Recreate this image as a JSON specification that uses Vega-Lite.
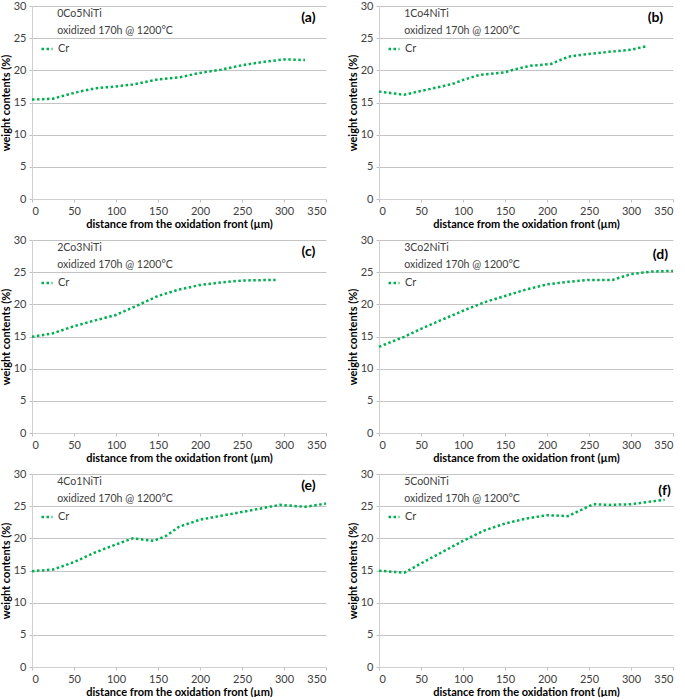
{
  "$schema": "https://vega.github.io/schema/vega-lite/v6.json",
  "background": "white",
  "padding": {"left": 0, "top": 0, "right": 0, "bottom": 0},
  "datasets": {
    "a": [
      {"distance": 0, "cr": 15.45}, {"distance": 25, "cr": 15.6}, {"distance": 50, "cr": 16.5},
      {"distance": 75, "cr": 17.2}, {"distance": 100, "cr": 17.5}, {"distance": 120, "cr": 17.8},
      {"distance": 150, "cr": 18.6}, {"distance": 175, "cr": 18.9}, {"distance": 200, "cr": 19.6},
      {"distance": 225, "cr": 20.1}, {"distance": 250, "cr": 20.8}, {"distance": 275, "cr": 21.3},
      {"distance": 300, "cr": 21.7}, {"distance": 325, "cr": 21.6}
    ],
    "b": [
      {"distance": 0, "cr": 16.7}, {"distance": 30, "cr": 16.2}, {"distance": 50, "cr": 16.8},
      {"distance": 75, "cr": 17.5}, {"distance": 90, "cr": 18.0}, {"distance": 100, "cr": 18.5},
      {"distance": 120, "cr": 19.3}, {"distance": 150, "cr": 19.7}, {"distance": 160, "cr": 20.1},
      {"distance": 180, "cr": 20.7}, {"distance": 205, "cr": 21.0}, {"distance": 225, "cr": 22.1},
      {"distance": 240, "cr": 22.4}, {"distance": 275, "cr": 22.9}, {"distance": 300, "cr": 23.2},
      {"distance": 320, "cr": 23.8}
    ],
    "c": [
      {"distance": 0, "cr": 14.95}, {"distance": 25, "cr": 15.5}, {"distance": 50, "cr": 16.6},
      {"distance": 75, "cr": 17.5}, {"distance": 100, "cr": 18.35}, {"distance": 125, "cr": 19.8},
      {"distance": 150, "cr": 21.3}, {"distance": 175, "cr": 22.3}, {"distance": 200, "cr": 23.0},
      {"distance": 225, "cr": 23.4}, {"distance": 250, "cr": 23.7}, {"distance": 290, "cr": 23.8}
    ],
    "d": [
      {"distance": 0, "cr": 13.4}, {"distance": 30, "cr": 14.95}, {"distance": 50, "cr": 16.2},
      {"distance": 75, "cr": 17.6}, {"distance": 100, "cr": 19.0}, {"distance": 125, "cr": 20.3},
      {"distance": 150, "cr": 21.3}, {"distance": 175, "cr": 22.3}, {"distance": 200, "cr": 23.1},
      {"distance": 225, "cr": 23.5}, {"distance": 250, "cr": 23.8}, {"distance": 278, "cr": 23.8},
      {"distance": 300, "cr": 24.7}, {"distance": 325, "cr": 25.1}, {"distance": 350, "cr": 25.2}
    ],
    "e": [
      {"distance": 0, "cr": 14.9}, {"distance": 25, "cr": 15.15}, {"distance": 50, "cr": 16.3},
      {"distance": 75, "cr": 17.8}, {"distance": 100, "cr": 19.05}, {"distance": 120, "cr": 20.0},
      {"distance": 145, "cr": 19.6}, {"distance": 160, "cr": 20.4}, {"distance": 175, "cr": 21.8},
      {"distance": 200, "cr": 22.9}, {"distance": 225, "cr": 23.5}, {"distance": 250, "cr": 24.1},
      {"distance": 275, "cr": 24.7}, {"distance": 295, "cr": 25.2}, {"distance": 325, "cr": 24.9},
      {"distance": 350, "cr": 25.4}
    ],
    "f": [
      {"distance": 0, "cr": 14.97}, {"distance": 30, "cr": 14.65}, {"distance": 50, "cr": 16.1},
      {"distance": 75, "cr": 17.85}, {"distance": 100, "cr": 19.6}, {"distance": 125, "cr": 21.2},
      {"distance": 150, "cr": 22.3}, {"distance": 175, "cr": 23.07}, {"distance": 200, "cr": 23.6},
      {"distance": 225, "cr": 23.45}, {"distance": 255, "cr": 25.3}, {"distance": 275, "cr": 25.2},
      {"distance": 300, "cr": 25.3}, {"distance": 340, "cr": 26.0}
    ],
    "one": [{}]
  },
  "columns": 2,
  "spacing": {"row": 5, "column": 16},
  "concat": [
    {
      "width": 294, "height": 193,
      "layer": [
        {"data": {"name": "a"}, "mark": {"type": "line", "strokeDash": [2.5, 2.5], "strokeWidth": 2.5},
         "encoding": {
           "x": {"field": "distance", "type": "quantitative", "title": "distance from the oxidation front (µm)", "scale": {"domain": [0, 350]}},
           "y": {"field": "cr", "type": "quantitative", "title": "weight contents (%)", "scale": {"domain": [0, 30]}},
           "color": {"datum": "Cr"}
         }},
        {"data": {"name": "one"}, "mark": {"type": "text", "align": "left", "baseline": "middle"},
         "encoding": {"x": {"datum": 30}, "y": {"datum": 28.7}, "text": {"value": "0Co5NiTi"}}},
        {"data": {"name": "one"}, "mark": {"type": "text", "align": "left", "baseline": "middle"},
         "encoding": {"x": {"datum": 30}, "y": {"datum": 26.1}, "text": {"value": "oxidized 170h @ 1200°C"}}},
        {"data": {"name": "one"}, "mark": {"type": "text", "align": "center", "baseline": "middle", "fontWeight": "bold", "fontSize": 14, "color": "black"},
         "encoding": {"x": {"datum": 329}, "y": {"datum": 28.1}, "text": {"value": "(a)"}}}
      ]
    },
    {
      "width": 294, "height": 193,
      "layer": [
        {"data": {"name": "b"}, "mark": {"type": "line", "strokeDash": [2.5, 2.5], "strokeWidth": 2.5},
         "encoding": {
           "x": {"field": "distance", "type": "quantitative", "title": "distance from the oxidation front (µm)", "scale": {"domain": [0, 350]}},
           "y": {"field": "cr", "type": "quantitative", "title": "weight contents (%)", "scale": {"domain": [0, 30]}},
           "color": {"datum": "Cr"}
         }},
        {"data": {"name": "one"}, "mark": {"type": "text", "align": "left", "baseline": "middle"},
         "encoding": {"x": {"datum": 30}, "y": {"datum": 28.7}, "text": {"value": "1Co4NiTi"}}},
        {"data": {"name": "one"}, "mark": {"type": "text", "align": "left", "baseline": "middle"},
         "encoding": {"x": {"datum": 30}, "y": {"datum": 26.1}, "text": {"value": "oxidized 170h @ 1200°C"}}},
        {"data": {"name": "one"}, "mark": {"type": "text", "align": "center", "baseline": "middle", "fontWeight": "bold", "fontSize": 14, "color": "black"},
         "encoding": {"x": {"datum": 329}, "y": {"datum": 28.1}, "text": {"value": "(b)"}}}
      ]
    },
    {
      "width": 294, "height": 193,
      "layer": [
        {"data": {"name": "c"}, "mark": {"type": "line", "strokeDash": [2.5, 2.5], "strokeWidth": 2.5},
         "encoding": {
           "x": {"field": "distance", "type": "quantitative", "title": "distance from the oxidation front (µm)", "scale": {"domain": [0, 350]}},
           "y": {"field": "cr", "type": "quantitative", "title": "weight contents (%)", "scale": {"domain": [0, 30]}},
           "color": {"datum": "Cr"}
         }},
        {"data": {"name": "one"}, "mark": {"type": "text", "align": "left", "baseline": "middle"},
         "encoding": {"x": {"datum": 30}, "y": {"datum": 28.7}, "text": {"value": "2Co3NiTi"}}},
        {"data": {"name": "one"}, "mark": {"type": "text", "align": "left", "baseline": "middle"},
         "encoding": {"x": {"datum": 30}, "y": {"datum": 26.1}, "text": {"value": "oxidized 170h @ 1200°C"}}},
        {"data": {"name": "one"}, "mark": {"type": "text", "align": "center", "baseline": "middle", "fontWeight": "bold", "fontSize": 14, "color": "black"},
         "encoding": {"x": {"datum": 329}, "y": {"datum": 28.1}, "text": {"value": "(c)"}}}
      ]
    },
    {
      "width": 294, "height": 193,
      "layer": [
        {"data": {"name": "d"}, "mark": {"type": "line", "strokeDash": [2.5, 2.5], "strokeWidth": 2.5},
         "encoding": {
           "x": {"field": "distance", "type": "quantitative", "title": "distance from the oxidation front (µm)", "scale": {"domain": [0, 350]}},
           "y": {"field": "cr", "type": "quantitative", "title": "weight contents (%)", "scale": {"domain": [0, 30]}},
           "color": {"datum": "Cr"}
         }},
        {"data": {"name": "one"}, "mark": {"type": "text", "align": "left", "baseline": "middle"},
         "encoding": {"x": {"datum": 30}, "y": {"datum": 28.7}, "text": {"value": "3Co2NiTi"}}},
        {"data": {"name": "one"}, "mark": {"type": "text", "align": "left", "baseline": "middle"},
         "encoding": {"x": {"datum": 30}, "y": {"datum": 26.1}, "text": {"value": "oxidized 170h @ 1200°C"}}},
        {"data": {"name": "one"}, "mark": {"type": "text", "align": "center", "baseline": "middle", "fontWeight": "bold", "fontSize": 14, "color": "black"},
         "encoding": {"x": {"datum": 335}, "y": {"datum": 27.6}, "text": {"value": "(d)"}}}
      ]
    },
    {
      "width": 294, "height": 193,
      "layer": [
        {"data": {"name": "e"}, "mark": {"type": "line", "strokeDash": [2.5, 2.5], "strokeWidth": 2.5},
         "encoding": {
           "x": {"field": "distance", "type": "quantitative", "title": "distance from the oxidation front (µm)", "scale": {"domain": [0, 350]}},
           "y": {"field": "cr", "type": "quantitative", "title": "weight contents (%)", "scale": {"domain": [0, 30]}},
           "color": {"datum": "Cr"}
         }},
        {"data": {"name": "one"}, "mark": {"type": "text", "align": "left", "baseline": "middle"},
         "encoding": {"x": {"datum": 30}, "y": {"datum": 28.7}, "text": {"value": "4Co1NiTi"}}},
        {"data": {"name": "one"}, "mark": {"type": "text", "align": "left", "baseline": "middle"},
         "encoding": {"x": {"datum": 30}, "y": {"datum": 26.1}, "text": {"value": "oxidized 170h @ 1200°C"}}},
        {"data": {"name": "one"}, "mark": {"type": "text", "align": "center", "baseline": "middle", "fontWeight": "bold", "fontSize": 14, "color": "black"},
         "encoding": {"x": {"datum": 329}, "y": {"datum": 28.1}, "text": {"value": "(e)"}}}
      ]
    },
    {
      "width": 294, "height": 193,
      "layer": [
        {"data": {"name": "f"}, "mark": {"type": "line", "strokeDash": [2.5, 2.5], "strokeWidth": 2.5},
         "encoding": {
           "x": {"field": "distance", "type": "quantitative", "title": "distance from the oxidation front (µm)", "scale": {"domain": [0, 350]}},
           "y": {"field": "cr", "type": "quantitative", "title": "weight contents (%)", "scale": {"domain": [0, 30]}},
           "color": {"datum": "Cr"}
         }},
        {"data": {"name": "one"}, "mark": {"type": "text", "align": "left", "baseline": "middle"},
         "encoding": {"x": {"datum": 30}, "y": {"datum": 28.7}, "text": {"value": "5Co0NiTi"}}},
        {"data": {"name": "one"}, "mark": {"type": "text", "align": "left", "baseline": "middle"},
         "encoding": {"x": {"datum": 30}, "y": {"datum": 26.1}, "text": {"value": "oxidized 170h @ 1200°C"}}},
        {"data": {"name": "one"}, "mark": {"type": "text", "align": "center", "baseline": "middle", "fontWeight": "bold", "fontSize": 14, "color": "black"},
         "encoding": {"x": {"datum": 340}, "y": {"datum": 27.3}, "text": {"value": "(f)"}}}
      ]
    }
  ],
  "resolve": {"legend": {"color": "independent"}},
  "config": {
    "font": "Lato",
    "view": {"stroke": null},
    "text": {"font": "Lato", "fontSize": 10.6, "fontWeight": "normal", "color": "#404040"},
    "range": {"category": ["#00b050"]},
    "axis": {
      "labelFont": "Lato", "labelFontSize": 11, "labelColor": "#404040",
      "titleFont": "Lato", "titleFontSize": 11, "titleFontWeight": "bold", "titleColor": "#000000",
      "domainColor": "#d0d0d0", "tickColor": "#c0c0c0", "tickSize": 3,
      "gridColor": "#c4c4c4", "labelPadding": 3, "titlePadding": 2
    },
    "axisX": {"grid": false, "tickCount": 7},
    "axisY": {"tickCount": 7},
    "legend": {
      "orient": "none", "legendX": 8, "legendY": 36,
      "title": null, "symbolType": "stroke", "symbolDash": [2.5, 2.5], "symbolStrokeWidth": 2.5,
      "symbolSize": 120, "labelFont": "Lato", "labelFontSize": 11, "labelColor": "#404040"
    }
  }
}
